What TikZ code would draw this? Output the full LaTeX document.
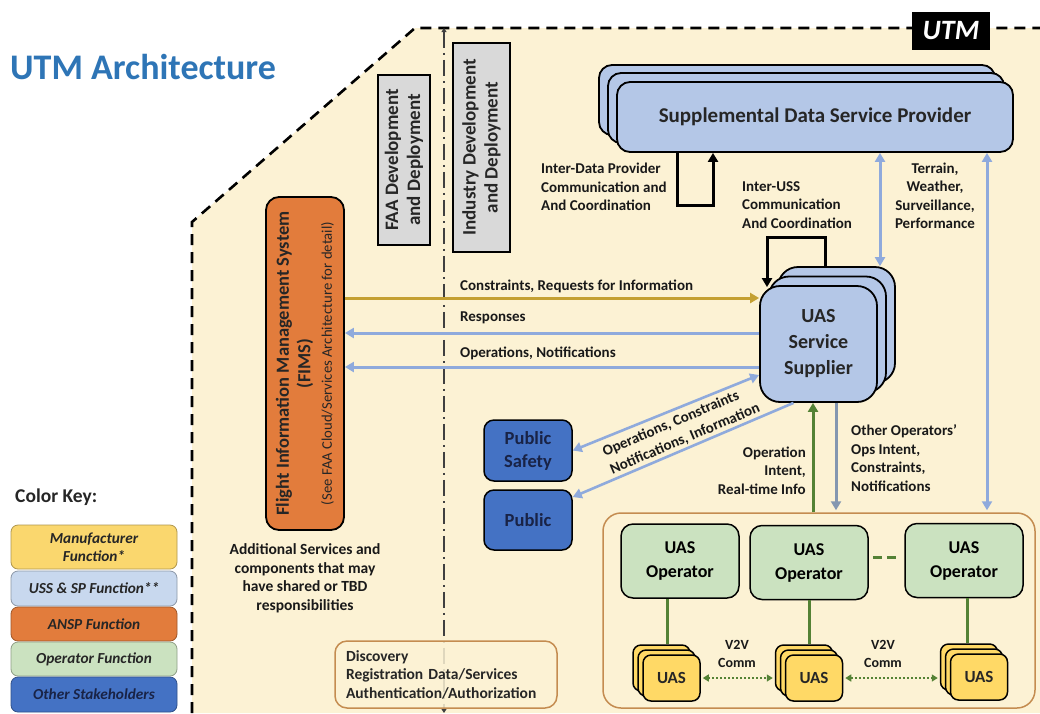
\documentclass[tikz,border=0pt]{standalone}
\usepackage{fontspec}
\setmainfont{Carlito}
\usetikzlibrary{arrows.meta,calc}
\definecolor{cream}{RGB}{252,242,212}
\definecolor{lblue}{RGB}{180,199,231}
\definecolor{keyblue}{RGB}{200,216,238}
\definecolor{orangef}{RGB}{226,124,60}
\definecolor{yellowf}{RGB}{255,217,102}
\definecolor{keyyellow}{RGB}{250,215,110}
\definecolor{greenf}{RGB}{203,226,192}
\definecolor{bluef}{RGB}{68,114,196}
\definecolor{grayf}{RGB}{217,217,217}
\definecolor{arrblue}{RGB}{143,170,220}
\definecolor{arrgray}{RGB}{132,151,176}
\definecolor{gold}{RGB}{196,160,50}
\definecolor{darkgreen}{RGB}{84,130,53}
\definecolor{brown}{RGB}{196,140,80}
\definecolor{titleblue}{RGB}{46,117,182}
\definecolor{navy}{RGB}{25,35,70}
\begin{document}
\begin{tikzpicture}[x=1pt,y=-1pt,
  box/.style={draw=black, line width=1.8pt, rounded corners=10pt, align=center, inner sep=2pt},
  lbl/.style={font=\fontsize{15}{18.5}\selectfont\bfseries, align=left, inner sep=0pt, text=black!90},
  arr/.style={line width=3pt, -{Triangle[width=10pt,length=9pt]}},
  darr/.style={line width=3pt, {Triangle[width=10pt,length=9pt]}-{Triangle[width=10pt,length=9pt]}},
  keybox/.style={rounded corners=7pt, line width=0.8pt, minimum width=166pt, align=center,
     font=\fontsize{15.3}{18}\selectfont\bfseries\itshape, text=black!85},
  stack/.style={box, fill=lblue},
  uas/.style={box, fill=yellowf, minimum width=57pt, minimum height=46pt, rounded corners=8pt, line width=1.5pt},
  oper/.style={box, fill=greenf, minimum width=118pt, minimum height=74pt, rounded corners=12pt, line width=1.5pt,
     font=\fontsize{18}{24}\selectfont\bfseries},
  gline/.style={line width=3pt, draw=darkgreen}
]
\useasboundingbox (0,0) rectangle (1040,713);
\fill[white] (0,0) rectangle (1040,713);
\fill[cream] (192,713) -- (192,222) -- (415,28) -- (1040,28) -- (1040,713) -- cycle;
\draw[black, line width=2.6pt, dash pattern=on 11pt off 7pt] (192,713) -- (192,222) -- (415,28) -- (1040,28);

% title and UTM label
\node[anchor=west, text=titleblue, font=\fontsize{36}{40}\selectfont\bfseries, inner sep=0pt] (title) at (10,67) {UTM Architecture};
\node[fill=black, text=white, minimum width=78pt, minimum height=38pt, font=\fontsize{28}{30}\selectfont\bfseries\itshape] (utm) at (951,31) {UTM};

% divider
\coordinate (dtop) at (444,28);
\coordinate (dbot) at (444,713);
\draw[black!75, line width=1.6pt, dash pattern=on 16pt off 5pt on 2pt off 5pt, {Triangle[width=5pt,length=4pt]}-{Triangle[width=5pt,length=4pt]}] (dtop) -- (dbot);

% development boxes
\node[draw=black, line width=1.5pt, fill=grayf, rotate=90, minimum width=170pt, minimum height=52pt, align=center,
  font=\fontsize{19}{22}\selectfont\bfseries, text=black!85] (faa) at (404,160) {FAA Development\\and Deployment};
\node[draw=black, line width=1.5pt, fill=grayf, rotate=90, minimum width=209pt, minimum height=57pt, align=center,
  font=\fontsize{19}{22}\selectfont\bfseries, text=black!85] (ind) at (481.5,147.5) {Industry Development\\and Deployment};

% FIMS
\node[box, fill=orangef, rotate=90, minimum width=333pt, minimum height=78pt, rounded corners=13pt,
  font=\fontsize{18.5}{21.5}\selectfont\bfseries, text=black!85] (fims) at (305,363.5)
  {Flight Information Management System\\(FIMS)\\{\fontsize{14.7}{21.5}\selectfont\mdseries (See FAA Cloud/Services Architecture for detail)}};

% SDSP stack
\node[stack, minimum width=396pt, minimum height=70pt, rounded corners=13pt] (sdspb) at (797,100) {};
\node[stack, minimum width=396pt, minimum height=70pt, rounded corners=13pt] (sdspm) at (806,108) {};
\node[stack, minimum width=396pt, minimum height=70pt, rounded corners=13pt,
  font=\fontsize{21}{24}\selectfont\bfseries, text=black!85] (sdspf) at (815,117) {Supplemental Data Service Provider};

% USS stack
\node[stack, minimum width=117pt, minimum height=116pt, rounded corners=20pt] (ussb) at (836.5,325) {};
\node[stack, minimum width=117pt, minimum height=116pt, rounded corners=20pt] (ussm) at (827.5,334.5) {};
\node[stack, minimum width=117pt, minimum height=116pt, rounded corners=20pt,
  font=\fontsize{20}{26}\selectfont\bfseries, text=black!85] (ussf) at (818.5,344) {UAS\\Service\\Supplier};

% public
\node[box, fill=bluef, minimum width=88pt, minimum height=61pt, text=navy, line width=1.5pt,
  font=\fontsize{18.5}{23}\selectfont\bfseries] (ps) at (528,450.5) {Public\\Safety};
\node[box, fill=bluef, minimum width=88pt, minimum height=60pt, text=navy, line width=1.5pt,
  font=\fontsize{18.5}{23}\selectfont\bfseries] (pub) at (528,520) {Public};

% operator group
\node[draw=brown, line width=1.5pt, fill=cream, rounded corners=18pt, minimum width=432pt, minimum height=195pt] (grp) at (819,610.5) {};
\node[oper] (op1) at (680,561) {UAS\\Operator};
\node[oper] (op2) at (809,562.5) {UAS\\Operator};
\node[oper] (op3) at (964,560.5) {UAS\\Operator};

\foreach \n/\x/\y in {1/671.5/678, 2/814/678, 3/979/677}{
  \node[uas] (uas\n b) at (\x-10,\y-10) {};
  \node[uas] (uas\n m) at (\x-5,\y-5) {};
  \node[uas, font=\fontsize{17}{20}\selectfont\bfseries, text=black!85] (uas\n f) at (\x,\y) {UAS};
}

\draw[gline] ($(op1.south)+(-13,0)$) -- ($(op1.south |- uas1b.north)+(-13,0)$);
\draw[gline] (op2.south) -- (op2.south |- uas2b.north);
\draw[gline] ($(op3.south)+(3,0)$) -- ($(op3.south |- uas3b.north)+(3,0)$);
\draw[gline, dash pattern=on 9pt off 5pt] ($(op2.east)+(4,-5.5)$) -- ($(op3.west)+(-4,-3.5)$);

\draw[darkgreen, line width=2pt, dotted, shorten <=2pt, shorten >=2pt,
  {Triangle[width=7pt,length=6pt]}-{Triangle[width=7pt,length=6pt]}] (uas1f.east) -- (uas1f.east -| uas2b.west);
\draw[darkgreen, line width=2pt, dotted, shorten <=2pt, shorten >=2pt,
  {Triangle[width=7pt,length=6pt]}-{Triangle[width=7pt,length=6pt]}] (uas2f.east) -- (uas2f.east -| uas3b.west);
\node[lbl, align=center, font=\fontsize{14}{18}\selectfont\bfseries] (v2v1) at (737,654) {V2V\\Comm};
\node[lbl, align=center, font=\fontsize{14}{18}\selectfont\bfseries] (v2v2) at (883,654) {V2V\\Comm};

% discovery box
\node[draw=brown, line width=1.5pt, fill=cream, fill opacity=0.85, text opacity=1, rounded corners=12pt,
  minimum width=222pt, minimum height=67pt, text width=200pt, align=left,
  font=\fontsize{15.5}{18.5}\selectfont\bfseries, text=black!85] (disc) at (446,674.5)
  {Discovery\\Registration Data/Services\\Authentication/Authorization};

% loops
\draw[black, line width=3pt, -{Triangle[width=10pt,length=9pt]}]
  ($(sdspf.south)+(-138,0)$) -- ++(0,53) -- ++(36,0) -- ($(sdspf.south)+(-102,0)$);
\draw[black, line width=3pt, -{Triangle[width=10pt,length=9pt]}]
  ($(ussb.north)+(-11.5,0)$) -- ++(0,-29) -- ++(-58,0) -- ($(ussf.north)+(-51.5,2)$);

% terrain arrows
\draw[darr, arrblue] ($(sdspf.south)+(65,0)$) -- ($(ussb.north)+(43.5,0)$);
\draw[darr, arrblue] ($(sdspf.south)+(172,0)$) -- ($(sdspf.south |- grp.north)+(172,-2)$);

% FIMS arrows
\draw[arr, gold] (fims.south |- 0,298) -- (ussf.west |- 0,298);
\draw[arr, arrblue] (ussf.west |- 0,333) -- (fims.south |- 0,333);
\draw[arr, arrblue] (ussf.west |- 0,367) -- (fims.south |- 0,367);

% public arrows
\draw[darr, arrblue, line width=2.6pt] (ussf.west |- 0,375) -- (ps.east);
\draw[arr, arrblue, line width=2.6pt] ($(ussf.south)+(-25,0)$) -- (pub.east |- 0,497);

% operator arrows
\draw[arr, darkgreen] ($(ussf.south |- grp.north)+(-5.5,0)$) -- ($(ussf.south)+(-5.5,0)$);
\draw[arr, arrgray] ($(ussf.south)+(17.5,0)$) -- ($(ussf.south |- grp.north)+(17.5,-2)$);

% labels
\node[lbl, anchor=west] (l1) at (541,187) {Inter-Data Provider\\Communication and\\And Coordination};
\node[lbl, anchor=west] (l2) at (742,205) {Inter-USS\\Communication\\And Coordination};
\node[lbl, align=center] (l3) at (935,196) {Terrain,\\Weather,\\Surveillance,\\Performance};
\node[lbl, anchor=west] (l4) at (460,286) {Constraints, Requests for Information};
\node[lbl, anchor=west] (l5) at (460,318) {Responses};
\node[lbl, anchor=west] (l6) at (460,353) {Operations, Notifications};
\node[lbl, align=right, anchor=east] (l7) at (806,470.5) {Operation\\Intent,\\Real-time Info};
\node[lbl, anchor=west] (l8) at (851,458) {Other Operators'\\Ops Intent,\\Constraints,\\Notifications};
\node[lbl, rotate=23, align=center] (l9) at (671,424) {Operations, Constraints};
\node[lbl, rotate=23, align=center] (l10) at (685,439) {Notifications, Information};
\node[lbl, align=center, font=\fontsize{15.5}{18.5}\selectfont\bfseries] (l11) at (305,578.5) {Additional Services and\\components that may\\have shared or TBD\\responsibilities};

% color key
\node[anchor=west, font=\fontsize{19.5}{22}\selectfont\bfseries, text=black!85, inner sep=0pt] (ck) at (15,497) {Color Key:};
\node[keybox, fill=keyyellow, draw=keyyellow!70!black, minimum height=44pt] (k1) at (94,547) {Manufacturer\\Function*};
\node[keybox, fill=keyblue, draw=keyblue!70!black, minimum height=35pt] (k2) at (94,588.5) {USS \& SP Function**};
\node[keybox, fill=orangef, draw=orangef!70!black, minimum height=34pt] (k3) at (94,624) {ANSP Function};
\node[keybox, fill=greenf, draw=greenf!70!black, minimum height=34pt] (k4) at (94,659) {Operator Function};
\node[keybox, fill=bluef, draw=bluef!70!black, minimum height=35pt, text=navy] (k5) at (94,694.5) {Other Stakeholders};
\end{tikzpicture}
\end{document}
